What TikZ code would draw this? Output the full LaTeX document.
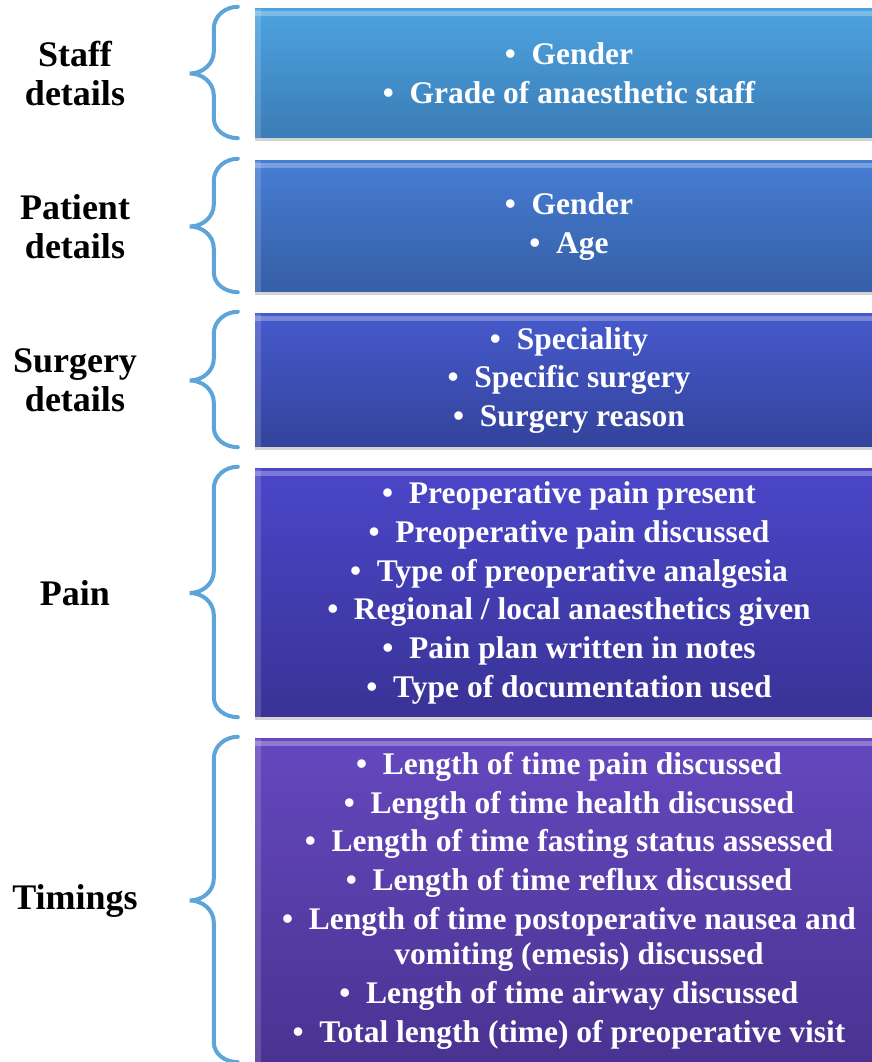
\documentclass[tikz,border=0pt]{standalone}
\usepackage{fontspec}
\setmainfont{Liberation Serif}
\usepackage{tikz}
\usetikzlibrary{shadows,positioning}

\definecolor{bracecol}{HTML}{5DA5D8}
\definecolor{staffTop}{HTML}{4DA3E0}   \definecolor{staffBot}{HTML}{3A7CB6}
\definecolor{patTop}{HTML}{467DD3}     \definecolor{patBot}{HTML}{365FA6}
\definecolor{surgTop}{HTML}{465ACC}    \definecolor{surgBot}{HTML}{33439B}
\definecolor{painTop}{HTML}{4B46C9}    \definecolor{painBot}{HTML}{393396}
\definecolor{timeTop}{HTML}{6548BF}    \definecolor{timeBot}{HTML}{493391}

\tikzset{
  catbox/.style 2 args={rectangle, minimum width=628pt, inner sep=0pt,
    top color=#1, bottom color=#2, text=white, align=center,
    font=\fontsize{31.5}{35}\selectfont\bfseries,
    drop shadow={shadow xshift=0pt, shadow yshift=-3pt, opacity=.35},
    path picture={
      \fill[white,opacity=.28] ([yshift=-2pt]path picture bounding box.north west)
        rectangle ([yshift=-7pt]path picture bounding box.north east);
      \fill[white,opacity=.15] (path picture bounding box.north west)
        rectangle ([xshift=6pt]path picture bounding box.south west);
    }},
  catlabel/.style={align=center, font=\fontsize{36}{39}\selectfont\bfseries},
  catbrace/.style={draw=bracecol, line width=4pt, line cap=round},
}

% curly brace on the left side of a box
\newcommand{\sidebrace}[1]{%
  \draw[catbrace] ([shift={(-17pt,2pt)}]#1.north west)
    to[out=180,in=90] ([shift={(-41pt,-20pt)}]#1.north west)
    -- ([shift={(-41pt,22pt)}]#1.west)
    to[out=270,in=0] ([xshift=-65pt]#1.west)
    to[out=0,in=90] ([shift={(-41pt,-22pt)}]#1.west)
    -- ([shift={(-41pt,20pt)}]#1.south west)
    to[out=270,in=180] ([xshift=-17pt]#1.south west);}

\newcommand{\itm}{•\enspace}

\begin{document}
\begin{tikzpicture}[x=1pt,y=1pt]
\useasboundingbox (0,0) rectangle (872,1062);

% category boxes
\node[catbox={staffTop}{staffBot}, minimum height=129pt] (staff) at (569,988.5)
  {\itm Gender\\[3.8pt]\itm Grade of anaesthetic staff};
\node[catbox={patTop}{patBot}, minimum height=131pt] (patient) at (569,835.5)
  {\itm Gender\\[3.8pt]\itm Age};
\node[catbox={surgTop}{surgBot}, minimum height=133pt] (surgery) at (569,681.5)
  {\itm Speciality\\[3.8pt]\itm Specific surgery\\[3.8pt]\itm Surgery reason};
\node[catbox={painTop}{painBot}, minimum height=248pt] (pain) at (569,469)
  {\itm Preoperative pain present\\[3.8pt]
   \itm Preoperative pain discussed\\[3.8pt]
   \itm Type of preoperative analgesia\\[3.8pt]
   \itm Regional / local anaesthetics given\\[3.8pt]
   \itm Pain plan written in notes\\[3.8pt]
   \itm Type of documentation used};
\node[catbox={timeTop}{timeBot}, minimum height=323pt] (timings) at (569,161.5)
  {\itm Length of time pain discussed\\[3.8pt]
   \itm Length of time health discussed\\[3.8pt]
   \itm Length of time fasting status assessed\\[3.8pt]
   \itm Length of time reflux discussed\\[3.8pt]
   \itm Length of time postoperative nausea and\\
   \hspace*{20pt}vomiting (emesis) discussed\\[3.8pt]
   \itm Length of time airway discussed\\[3.8pt]
   \itm Total length (time) of preoperative visit};

% labels on the left
\node[catlabel] (stafflab) at (75,988.5) {Staff\\details};
\node[catlabel] (patlab) at (75,835.5) {Patient\\details};
\node[catlabel] (surglab) at (75,681.5) {Surgery\\details};
\node[catlabel] (painlab) at (75,469) {Pain};
\node[catlabel] (timelab) at (75,161.5) {Timings};

% braces
\sidebrace{staff}
\sidebrace{patient}
\sidebrace{surgery}
\sidebrace{pain}
\sidebrace{timings}
\end{tikzpicture}
\end{document}
